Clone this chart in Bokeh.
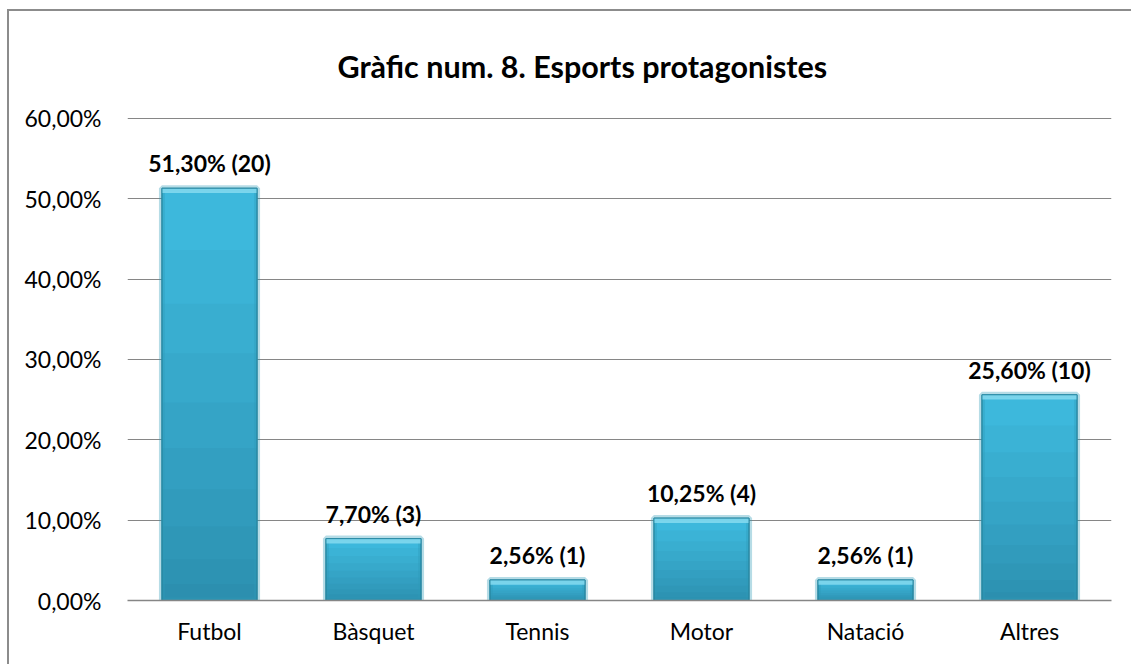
from bokeh.plotting import figure
from bokeh.models import ColumnDataSource, FixedTicker, Range1d, Title
from bokeh.core.properties import value
from bokeh.embed import file_html
from bokeh.resources import INLINE

categories = ["Futbol", "Bàsquet", "Tennis", "Motor", "Natació", "Altres"]
percents = [51.30, 7.70, 2.56, 10.25, 2.56, 25.60]
counts = [20, 3, 1, 4, 1, 10]
labels = ["51,30% (20)", "7,70% (3)", "2,56% (1)", "10,25% (4)", "2,56% (1)", "25,60% (10)"]
y_ticks = [0, 10, 20, 30, 40, 50, 60]
y_tick_labels = ["0,00%", "10,00%", "20,00%", "30,00%", "40,00%", "50,00%", "60,00%"]
title_text = "Gràfic num. 8. Esports protagonistes"

FONT = "Lato"

p = figure(x_range=categories, y_range=Range1d(0, 60.1), width=1124, height=655,
           output_backend="svg", toolbar_location=None,
           min_border_left=118, min_border_right=22, min_border_top=106, min_border_bottom=66)
p.styles = {"border-left": "2px solid #8c8c8c", "border-top": "2px solid #8c8c8c",
            "box-sizing": "border-box", "margin-left": "7px", "margin-top": "9px"}
p.outline_line_color = None
p.background_fill_color = "white"
p.border_fill_color = "white"

src = ColumnDataSource(dict(x=categories, top=percents, label=labels))
p.vbar(x="x", top="top", width=0.58, source=src, fill_color="#3DB8DC",
       line_color="#2A88A3", line_width=1)
# darkening layers toward the bottom
steps = [0.85, 0.72, 0.6, 0.48, 0.37, 0.27, 0.18, 0.1, 0.04]
for f in steps:
    p.vbar(x=categories, top=[v * f for v in percents], width=0.58,
           fill_color="#164a5a", fill_alpha=0.045, line_color=None)
# side bevels
p.vbar(x=categories, top=percents, width=0.58, fill_color=None,
       line_color="#2f9ab8", line_width=6, line_alpha=0.35)
# top bevel highlight
p.vbar(x=categories, top=percents, bottom=[max(v - 0.6, 0) for v in percents], width=0.58,
       fill_color="#86daf0", fill_alpha=0.85, line_color=None)
p.vbar(x=categories, top=percents, width=0.58, fill_color=None,
       line_color="#2A88A3", line_width=1)

p.text(x="x", y="top", text="label", source=src, text_align="center",
       text_baseline="bottom", y_offset=-11, text_font=value(FONT),
       text_font_style="bold", text_font_size="23px", text_color="#000000")

p.title = Title(text=title_text, align="left", vertical_align="top",
                text_font=FONT, text_font_size="30.5px", text_font_style="bold",
                text_color="#000000", offset=210, standoff=64)

p.yaxis.ticker = FixedTicker(ticks=y_ticks)
p.yaxis.major_label_overrides = {t: l for t, l in zip(y_ticks, y_tick_labels)}
p.yaxis.axis_line_color = None
p.yaxis.major_tick_line_color = None
p.yaxis.minor_tick_line_color = None
p.yaxis.major_label_standoff = 20
p.yaxis.major_label_text_font = FONT
p.yaxis.major_label_text_font_size = "23px"
p.yaxis.major_label_text_color = "#000000"

p.xaxis.axis_line_color = "#868686"
p.xaxis.axis_line_width = 1.5
p.xaxis.major_tick_line_color = None
p.xaxis.minor_tick_line_color = None
p.xaxis.major_label_standoff = 10
p.xaxis.major_label_text_font = FONT
p.xaxis.major_label_text_font_size = "23px"
p.xaxis.major_label_text_color = "#000000"

p.xgrid.grid_line_color = None
p.ygrid.grid_line_color = "#868686"
p.ygrid.grid_line_width = 1

open("out.html", "w").write(file_html(p, INLINE))
